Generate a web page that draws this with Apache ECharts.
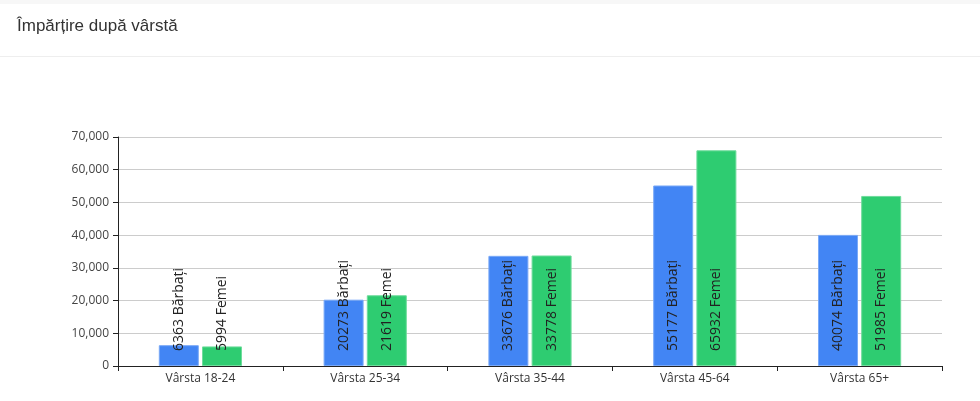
<!DOCTYPE html>
<html><head><meta charset="utf-8">
<script src="https://cdn.jsdelivr.net/npm/echarts@6/dist/echarts.min.js"></script>
<style>html,body{margin:0;padding:0;background:#fff}#c{width:980px;height:401px}</style>
</head><body><div id="c"></div>
<script>
const categories = ['Vârsta 18-24','Vârsta 25-34','Vârsta 35-44','Vârsta 45-64','Vârsta 65+'];
const men = [6363, 20273, 33676, 55177, 40074];
const women = [5994, 21619, 33778, 65932, 51985];
const menName = 'Bărbați';
const womenName = 'Femei';
const titleText = 'Împărțire după vârstă';

const chart = echarts.init(document.getElementById('c'));
const lbl = (name) => ({
  show: true, position: 'insideBottom', rotate: 90, align: 'left', verticalAlign: 'middle',
  distance: 15, color: '#222', fontSize: 14, fontFamily: 'Open Sans',
  formatter: p => p.value + ' ' + name
});
chart.setOption({
  animation: false,
  title: { text: titleText, left: 12, top: 13, textStyle: { fontSize: 17, fontWeight: 'normal', color: '#333', fontFamily: 'Liberation Sans' } },
  graphic: [
    { type: 'rect', shape: { x: 0, y: 0, width: 980, height: 4 }, style: { fill: '#f7f7f7' } },
    { type: 'line', shape: { x1: 0, y1: 56.5, x2: 980, y2: 56.5 }, style: { stroke: '#eeeeee', lineWidth: 1 } }
  ],
  grid: { left: 118, right: 38, top: 137, bottom: 35 },
  xAxis: {
    type: 'category', data: categories,
    axisLine: { lineStyle: { color: '#222' } },
    axisTick: { show: true, lineStyle: { color: '#222' }, length: 5 },
    axisLabel: { color: '#333', fontSize: 12, fontFamily: 'Open Sans', margin: 7 }
  },
  yAxis: {
    type: 'value', min: 0, max: 70000, interval: 10000,
    axisLine: { show: true, lineStyle: { color: '#222' } },
    axisTick: { show: true, lineStyle: { color: '#222' }, length: 5 },
    axisLabel: { color: '#444', fontSize: 12, fontFamily: 'Open Sans', margin: 9,
      formatter: v => v.toLocaleString('en-US') },
    splitLine: { lineStyle: { color: '#cccccc' } }
  },
  series: [
    { name: menName, type: 'bar', data: men, barWidth: 40, barGap: '8%',
      itemStyle: { color: '#4285f4', borderColor: '#7aa9f7', borderWidth: 1 }, label: lbl(menName) },
    { name: womenName, type: 'bar', data: women, barWidth: 40,
      itemStyle: { color: '#2ecc71', borderColor: '#6fdc9c', borderWidth: 1 }, label: lbl(womenName) }
  ]
});
</script></body></html>
